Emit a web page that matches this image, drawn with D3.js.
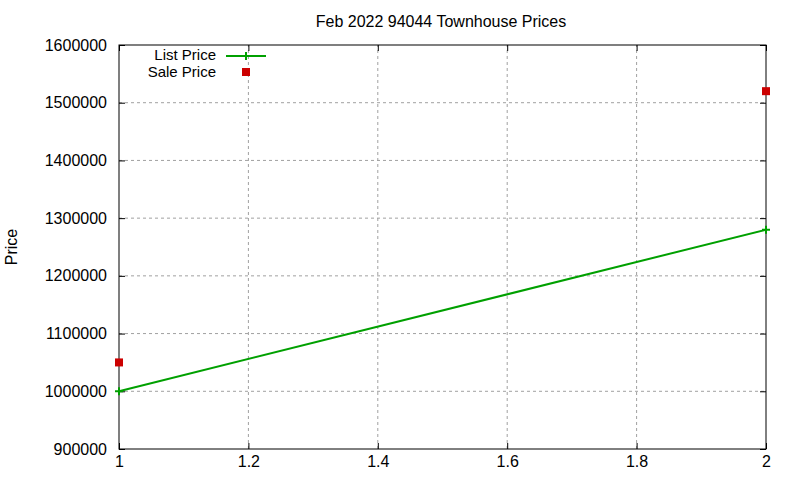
<!DOCTYPE html>
<html>
<head>
<meta charset="utf-8">
<script src="https://cdn.jsdelivr.net/npm/d3@7"></script>
<style>
  body { margin: 0; background: #fff; }
  svg text { font-family: "Liberation Sans", Arial, sans-serif; }
</style>
</head>
<body>
<div id="chart"></div>
<script>
// chart data
const xValues = [1, 2];
const listPrice = [1000000, 1280000];
const salePrice = [1050000, 1520000];
const xTicks = [1, 1.2, 1.4, 1.6, 1.8, 2];
const yTicks = [900000, 1000000, 1100000, 1200000, 1300000, 1400000, 1500000, 1600000];
const seriesNames = ["List Price", "Sale Price"];

const width = 800, height = 480;
const margin = { top: 45, right: 34, bottom: 31, left: 119 };
const fontSize = 16;

const svg = d3.select("#chart").append("svg")
  .attr("width", width)
  .attr("height", height);

svg.append("rect").attr("width", width).attr("height", height).attr("fill", "#fff");

const x = d3.scaleLinear().domain([1, 2]).range([margin.left, width - margin.right]);
const y = d3.scaleLinear().domain([900000, 1600000]).range([height - margin.bottom, margin.top]);

// grid lines
const grid = svg.append("g").attr("stroke", "#a0a0a0").attr("stroke-dasharray", "3,3").attr("stroke-width", 1);
xTicks.slice(1, -1).forEach(t => {
  grid.append("line").attr("x1", x(t)).attr("x2", x(t)).attr("y1", y.range()[0]).attr("y2", y.range()[1]);
});
yTicks.slice(1, -1).forEach(t => {
  grid.append("line").attr("x1", x.range()[0]).attr("x2", x.range()[1]).attr("y1", y(t)).attr("y2", y(t));
});

// axes (gnuplot style, mirrored ticks inside)
const fmt = d => String(d);
svg.append("g")
  .attr("transform", `translate(0,${y.range()[0]})`)
  .call(d3.axisBottom(x).tickValues(xTicks).tickFormat(d3.format("")).tickSizeInner(-6).tickSizeOuter(0).tickPadding(7));
svg.append("g")
  .attr("transform", `translate(0,${y.range()[1]})`)
  .call(d3.axisTop(x).tickValues(xTicks).tickFormat("").tickSizeInner(-6).tickSizeOuter(0));
svg.append("g")
  .attr("transform", `translate(${x.range()[0]},0)`)
  .call(d3.axisLeft(y).tickValues(yTicks).tickFormat(fmt).tickSizeInner(-6).tickSizeOuter(0).tickPadding(12));
svg.append("g")
  .attr("transform", `translate(${x.range()[1]},0)`)
  .call(d3.axisRight(y).tickValues(yTicks).tickFormat("").tickSizeInner(-6).tickSizeOuter(0));

svg.selectAll(".tick text").attr("font-size", fontSize).attr("fill", "#000");
svg.selectAll(".tick line").attr("stroke", "#000");
svg.selectAll(".domain").remove();

// border
svg.append("rect")
  .attr("x", x.range()[0]).attr("y", y.range()[1])
  .attr("width", x.range()[1] - x.range()[0])
  .attr("height", y.range()[0] - y.range()[1])
  .attr("fill", "none").attr("stroke", "#000").attr("stroke-width", 1);

// list price line
const green = "#00a000", red = "#cc0000";
const line = d3.line().x((d, i) => x(xValues[i])).y(d => y(d));
svg.append("path").datum(listPrice)
  .attr("d", line).attr("fill", "none").attr("stroke", green).attr("stroke-width", 2);

function plus(g, cx, cy) {
  g.append("path").attr("d", `M${cx - 4},${cy}H${cx + 4}M${cx},${cy - 4}V${cy + 4}`)
    .attr("stroke", green).attr("stroke-width", 2);
}
listPrice.forEach((v, i) => plus(svg, x(xValues[i]), y(v)));

// sale price points
svg.selectAll(".sale").data(salePrice).join("rect")
  .attr("x", (d, i) => x(xValues[i]) - 4)
  .attr("y", d => y(d) - 4)
  .attr("width", 8).attr("height", 8)
  .attr("fill", red);

// title and label
svg.append("text").attr("x", 441).attr("y", 27).attr("text-anchor", "middle")
  .attr("font-size", fontSize).text("Feb 2022 94044 Townhouse Prices");
svg.append("text").attr("transform", "translate(17,247) rotate(-90)").attr("text-anchor", "middle")
  .attr("font-size", fontSize).text("Price");

// legend
const lg = svg.append("g");
lg.append("text").attr("x", 216).attr("y", 60).attr("text-anchor", "end").attr("font-size", 15).text(seriesNames[0]);
lg.append("line").attr("x1", 226).attr("x2", 266).attr("y1", 56).attr("y2", 56).attr("stroke", green).attr("stroke-width", 2);
plus(lg, 246, 56);
lg.append("text").attr("x", 216).attr("y", 77).attr("text-anchor", "end").attr("font-size", 15).text(seriesNames[1]);
lg.append("rect").attr("x", 242).attr("y", 68).attr("width", 8).attr("height", 8).attr("fill", red);
</script>
</body>
</html>
